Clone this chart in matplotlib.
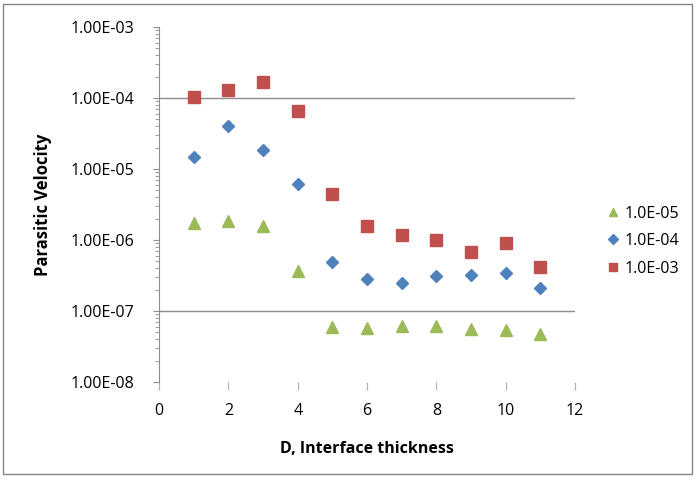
import matplotlib.pyplot as plt
import numpy as np
from matplotlib.patches import Rectangle
from matplotlib.ticker import FixedLocator, FuncFormatter, LogLocator, NullFormatter

plt.rcParams['font.family'] = ['Open Sans', 'DejaVu Sans']

thickness = [1, 2, 3, 4, 5, 6, 7, 8, 9, 10, 11]
vel_1e5 = [1.75e-6, 1.85e-6, 1.55e-6, 3.7e-7, 6.0e-8, 5.7e-8, 6.2e-8, 6.1e-8, 5.5e-8, 5.4e-8, 4.7e-8]
vel_1e4 = [1.48e-5, 4.1e-5, 1.86e-5, 6.2e-6, 4.85e-7, 2.85e-7, 2.48e-7, 3.14e-7, 3.25e-7, 3.43e-7, 2.11e-7]
vel_1e3 = [1.02e-4, 1.28e-4, 1.7e-4, 6.6e-5, 4.5e-6, 1.57e-6, 1.17e-6, 1.0e-6, 6.8e-7, 9.1e-7, 4.2e-7]
labels = ['1.0E-05', '1.0E-04', '1.0E-03']

fig = plt.figure(figsize=(6.95, 4.79), dpi=100)
ax = fig.add_axes([0.2288, 0.2025, 0.5986, 0.7411])

# outer chart border
fig.patches.append(Rectangle((0.005, 0.01), 0.99, 0.982, transform=fig.transFigure,
                             fill=False, edgecolor='#868686', lw=1))

ax.plot(thickness, vel_1e5, '^', color='#9BBB59', ms=8, mec='#9BBB59', label=labels[0])
ax.plot(thickness, vel_1e4, 'D', color='#4F81BD', ms=6.5, mec='#4F81BD', label=labels[1])
ax.plot(thickness, vel_1e3, 's', color='#C0504D', ms=8.5, mec='#C0504D', label=labels[2])

ax.set_yscale('log')
ax.set_ylim(1e-8, 1e-3)
ax.set_xlim(0, 12)
ax.set_xticks(np.arange(0, 13, 2))

for lvl in [1e-4, 1e-7]:
    ax.axhline(lvl, color='#8c8c8c', lw=1, zorder=0)

ax.yaxis.set_major_locator(FixedLocator([10.0 ** k for k in range(-8, -2)]))
ax.yaxis.set_major_formatter(FuncFormatter(lambda v, p: '%.2E' % v))
ax.yaxis.set_minor_locator(LogLocator(base=10, subs=np.arange(2, 10)))
ax.yaxis.set_minor_formatter(NullFormatter())

for s in ['top', 'right', 'bottom']:
    ax.spines[s].set_visible(False)
ax.spines['left'].set_color('#8c8c8c')
ax.tick_params(axis='y', which='major', length=4, color='#8c8c8c', labelsize=11.5, pad=14)
ax.tick_params(axis='y', which='minor', length=3, color='#8c8c8c')
ax.tick_params(axis='x', length=6, color='#b0b0b0', labelsize=11.5, pad=9)

ax.set_xlabel('D, Interface thickness', fontsize=11.5, fontweight='bold', va='center')
ax.set_ylabel('Parasitic Velocity', fontsize=12, fontweight='bold', va='center')
ax.xaxis.set_label_coords(0.5, -0.189)
ax.yaxis.set_label_coords(-0.28, 0.5)

ax.legend(loc='center left', bbox_to_anchor=(1.042, 0.397), frameon=False, fontsize=11.5,
          handletextpad=0.3, labelspacing=0.72, handlelength=0.8, markerscale=0.75)

fig.savefig('out.png', dpi=100)
